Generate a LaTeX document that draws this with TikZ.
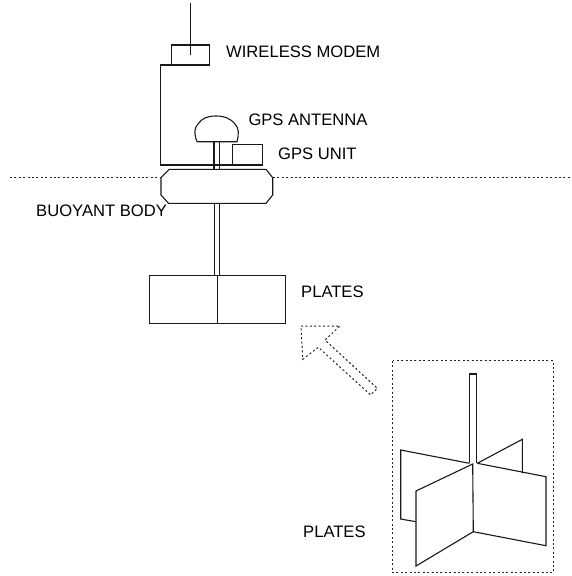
\documentclass[tikz,border=0pt]{standalone}
\usepackage{fontspec}
\setmainfont{Liberation Sans}
\begin{document}
\begin{tikzpicture}[x=1pt,y=-1pt,
  ln/.style={line width=1.1pt,black!90},
  dot/.style={line width=1pt,black!85,dash pattern=on 2pt off 2.4pt},
  lbl/.style={anchor=west,inner sep=0pt,font=\fontsize{16.6}{18}\selectfont,text=black}]
\useasboundingbox (0,0) rectangle (571,576);
% waterline
\draw[dot] (10,177.7) -- (161,177.7);
\draw[dot] (273,177.7) -- (571,177.7);
% modem, antenna, wiring
\draw[ln] (190.7,3) -- (190.7,55);
\draw[ln] (171.7,65) rectangle (209.3,45);
\draw[ln] (171.7,65) -- (160.4,65) -- (160.4,165) -- (263,165);
\draw[ln] (232.3,144.3) rectangle (262.7,165);
% GPS antenna
\draw[ln] (197,141.7) -- (237,141.7) .. controls (239,134) and (239,128) .. (235,124)
  .. controls (230,118) and (224,116) .. (216,116) .. controls (208,116) and (202,118) .. (198,124)
  .. controls (194,128) and (194,134) .. (197,141.7);
% masts
\draw[ln] (214,141.7) -- (214,169.3) (219.3,141.7) -- (219.3,169.3);
\draw[ln] (214.3,203.3) -- (214.3,275.7) (219.3,203.3) -- (219.3,275.7);
% buoyant body
\draw[ln] (169.3,169.3) -- (266,169.3) -- (272.7,177.7) -- (272.7,195) -- (266,203.3)
  -- (168.5,203.3) -- (161,195) -- (161,177.7) -- cycle;
% plates, side view
\draw[ln] (149.4,275.7) rectangle (285.3,323.7);
\draw[ln] (217.4,275.7) -- (217.4,323.7);
% arrow
\draw[dot] (301,326) -- (340,326) -- (325,340) -- (377.3,388.3) -- (370.7,395)
  -- (318.3,347.3) -- (302.7,359.3) -- cycle;
% inset
\draw[dot] (392.7,360.7) rectangle (553.3,572.7);
\draw[ln] (469.4,463.3) -- (469.4,374) -- (476.7,374) -- (476.7,463.3);
\draw[ln] (469.4,463.3) -- (400.7,450) -- (400.7,519) -- (416,521.7);
\draw[ln] (477.3,463.3) -- (522.3,439.3) -- (522.3,473.3);
\draw[ln] (477.3,463.3) -- (546,476.7) -- (546,545.7) -- (473.3,531.7);
\draw[ln] (472.7,464) -- (416,491) -- (416,566) -- (473.3,531.7) -- cycle;
% labels
\node[lbl] (modem) at (226,51.7) {WIRELESS MODEM};
\node[lbl] (antenna) at (248.3,120) {GPS ANTENNA};
\node[lbl] (unit) at (278,154) {GPS UNIT};
\node[lbl] (body) at (36,211) {BUOYANT BODY};
\node[lbl] (plates) at (301,292) {PLATES};
\node[lbl] (plates2) at (303,531.7) {PLATES};
\end{tikzpicture}
\end{document}
